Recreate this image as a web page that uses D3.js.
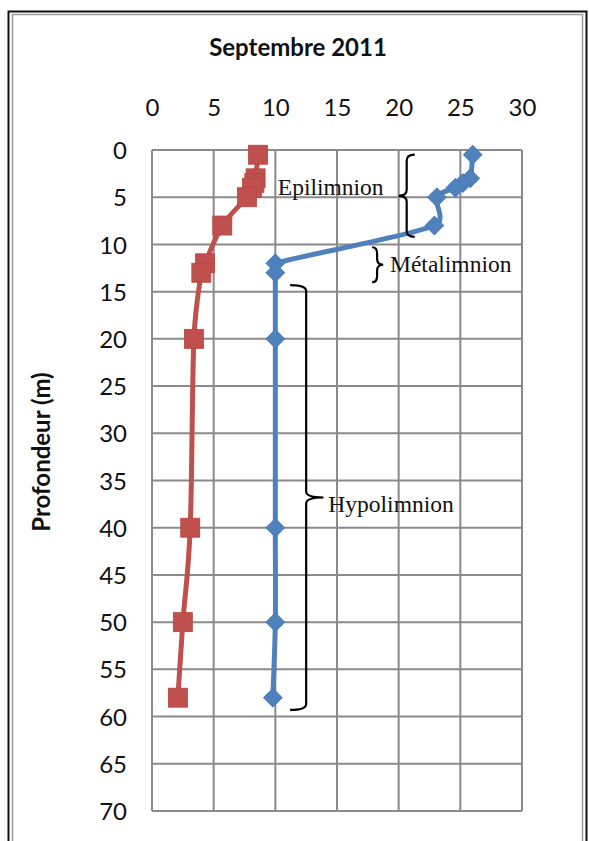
<!DOCTYPE html>
<html>
<head>
<meta charset="utf-8">
<script src="https://cdn.jsdelivr.net/npm/d3@7"></script>
<style>
  html, body { margin: 0; padding: 0; background: #fff; }
  svg { display: block; }
</style>
</head>
<body>
<svg id="chart" width="589" height="841"></svg>
<script>
// Profil vertical – septembre 2011
const depths      = [0.5, 3, 3.5, 4, 5, 8, 12, 13, 20, 40, 50, 58];
const temperature = [26.0, 25.8, 25.2, 24.6, 23.1, 22.9, 10.0, 10.0, 10.0, 10.0, 10.0, 9.8];
const oxygene     = [8.6, 8.4, 8.3, 8.1, 7.7, 5.7, 4.3, 4.0, 3.4, 3.1, 2.5, 2.1];

const xTicks = [0, 5, 10, 15, 20, 25, 30];
const yTicks = [0, 5, 10, 15, 20, 25, 30, 35, 40, 45, 50, 55, 60, 65, 70];

// Couches du lac (profondeurs couvertes par chaque accolade)
const zoneNames  = ["Epilimnion", "Métalimnion", "Hypolimnion"];
const zoneTop    = [0.5, 10.3, 14.3];
const zoneBottom = [9.2, 14.0, 59.3];

const svg = d3.select("#chart");

// cadre de la page et bordure du graphique
svg.append("rect").attr("x", 8.5).attr("y", 11.5).attr("width", 578).attr("height", 900)
  .attr("fill", "none").attr("stroke", "#111").attr("stroke-width", 2);
svg.append("rect").attr("x", 12.5).attr("y", 14.5).attr("width", 570).attr("height", 900)
  .attr("fill", "none").attr("stroke", "#9a9a9a").attr("stroke-width", 1.5);

const x = d3.scaleLinear().domain([0, 30]).range([152, 522]);
const y = d3.scaleLinear().domain([0, 70]).range([150, 811]);

// grille
const grid = svg.append("g").attr("stroke", "#8a8a8a").attr("stroke-width", 2);
grid.selectAll("line.v").data(xTicks).join("line").attr("class", "v")
  .attr("x1", d => x(d)).attr("x2", d => x(d)).attr("y1", y(0)).attr("y2", y(70));
grid.selectAll("line.h").data(yTicks).join("line").attr("class", "h")
  .attr("y1", d => y(d)).attr("y2", d => y(d)).attr("x1", x(0)).attr("x2", x(30));

const tickFont = "Lato, 'Open Sans', sans-serif";

// axe horizontal en haut
const xAxis = svg.append("g").attr("transform", `translate(0,${y(0) - 42})`)
  .call(d3.axisTop(x).tickValues(xTicks).tickSize(0).tickPadding(0).tickFormat(d3.format("d")));
xAxis.select(".domain").remove();
xAxis.selectAll("text").attr("font-family", tickFont).attr("font-size", 24)
  .attr("fill", "#111").attr("dy", "0.35em");

// axe vertical
const yAxis = svg.append("g").attr("transform", `translate(${x(0)},0)`)
  .call(d3.axisLeft(y).tickValues(yTicks).tickSize(0).tickPadding(25).tickFormat(d3.format("d")));
yAxis.select(".domain").remove();
yAxis.selectAll("text").attr("font-family", tickFont).attr("font-size", 24)
  .attr("fill", "#111").attr("dy", "0.36em");

// titres
svg.append("text").attr("x", 298).attr("y", 56).attr("text-anchor", "middle")
  .attr("font-family", tickFont).attr("font-weight", 700).attr("font-size", 24)
  .attr("fill", "#111").text("Septembre 2011");
svg.append("text").attr("transform", "translate(50,452) rotate(-90)").attr("text-anchor", "middle")
  .attr("font-family", tickFont).attr("font-weight", 700).attr("font-size", 24)
  .attr("fill", "#111").text("Profondeur (m)");

// Lissage de type tableur : tangentes Catmull-Rom (1/6), bras de contrôle
// limités à la moitié du segment pour éviter les boucles entre points rapprochés.
function smoothCurve(context) {
  let pts = [];
  return {
    areaStart() {}, areaEnd() {},
    lineStart() { pts = []; },
    point(px, py) { pts.push([px, py]); },
    lineEnd() {
      const n = pts.length;
      if (!n) return;
      context.moveTo(pts[0][0], pts[0][1]);
      const tan = pts.map((p, i) => {
        const a = pts[Math.max(0, i - 1)], b = pts[Math.min(n - 1, i + 1)];
        const k = (i === 0 || i === n - 1) ? 1 / 3 : 1 / 6;
        return [(b[0] - a[0]) * k, (b[1] - a[1]) * k];
      });
      const clamp = (t, len) => {
        const m = Math.hypot(t[0], t[1]), lim = len * 0.5;
        return m > lim && m > 0 ? [t[0] * lim / m, t[1] * lim / m] : t;
      };
      for (let i = 0; i < n - 1; i++) {
        const p0 = pts[i], p1 = pts[i + 1];
        const len = Math.hypot(p1[0] - p0[0], p1[1] - p0[1]);
        const t0 = clamp(tan[i], len), t1 = clamp(tan[i + 1], len);
        context.bezierCurveTo(p0[0] + t0[0], p0[1] + t0[1], p1[0] - t1[0], p1[1] - t1[1], p1[0], p1[1]);
      }
    }
  };
}

const line = d3.line().curve(smoothCurve).x(d => x(d.v)).y(d => y(d.z));

const oxy = depths.map((z, i) => ({ z, v: oxygene[i] }));
const temp = depths.map((z, i) => ({ z, v: temperature[i] }));

const red = "#C0504D", blue = "#4F81BD";

svg.append("path").datum(oxy).attr("d", line).attr("fill", "none")
  .attr("stroke", red).attr("stroke-width", 5).attr("stroke-linejoin", "round").attr("stroke-linecap", "round");
svg.append("path").datum(temp).attr("d", line).attr("fill", "none")
  .attr("stroke", blue).attr("stroke-width", 5).attr("stroke-linejoin", "round").attr("stroke-linecap", "round");

// marqueurs
svg.append("g").selectAll("rect").data(oxy).join("rect")
  .attr("x", d => x(d.v) - 9.5).attr("y", d => y(d.z) - 9.5)
  .attr("width", 19).attr("height", 19).attr("fill", red).attr("stroke", "#b8453f").attr("stroke-width", 0.8);

svg.append("g").selectAll("path").data(temp).join("path")
  .attr("transform", d => `translate(${x(d.v)},${y(d.z)}) rotate(45)`)
  .attr("d", d3.symbol().type(d3.symbolSquare).size(180))
  .attr("fill", blue).attr("stroke", "#4677b3").attr("stroke-width", 0.8);

// accolades
function brace(xs, xh, xt, y0, y1, r) {
  const ym = (y0 + y1) / 2;
  return `M${xh},${y0} Q${xs},${y0} ${xs},${y0 + r} L${xs},${ym - r} Q${xs},${ym} ${xt},${ym}` +
         ` Q${xs},${ym} ${xs},${ym + r} L${xs},${y1 - r} Q${xs},${y1} ${xh},${y1}`;
}
// position de chaque accolade (tige, crochets, pointe) et de son libellé, en unités du graphique
const braceStem  = [20.65, 18.25, 12.5];
const braceHook  = [21.3, 17.85, 11.2];
const braceTip   = [20.0, 18.75, 13.9];
const labelX     = [10.2, 19.3, 14.3];
const labelDepth = [4.8, 12.9, 38.3];

const ann = svg.append("g");
zoneNames.forEach((name, i) => {
  ann.append("path")
    .attr("d", brace(x(braceStem[i]), x(braceHook[i]), x(braceTip[i]), y(zoneTop[i]), y(zoneBottom[i]), 6))
    .attr("fill", "none").attr("stroke", "#000").attr("stroke-width", 2.2);
  ann.append("text").attr("x", x(labelX[i])).attr("y", y(labelDepth[i]))
    .attr("font-family", "'Liberation Serif', 'Times New Roman', serif").attr("font-size", 23.5)
    .attr("fill", "#111").text(name);
});
</script>
</body>
</html>
